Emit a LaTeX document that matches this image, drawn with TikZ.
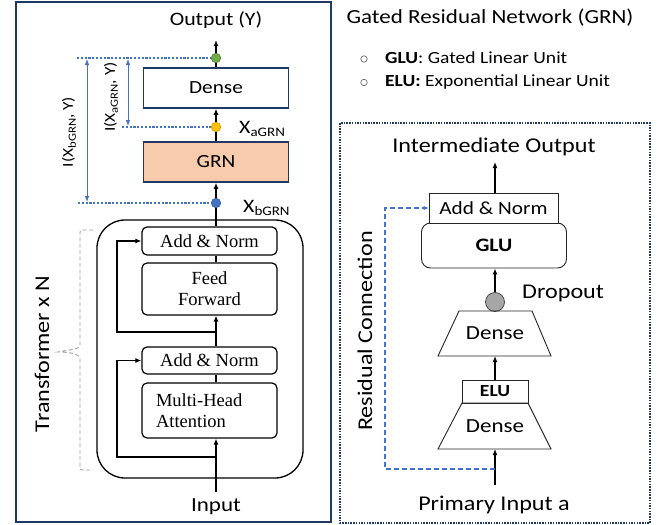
\documentclass[tikz,border=0pt]{standalone}
\usepackage{fontspec}
\setmainfont[FakeStretch=1.15]{Carlito}
\newfontfamily\serifface{Liberation Serif}
\newfontfamily\monoface{Liberation Mono}
\usetikzlibrary{arrows.meta}
\newcommand\fsz[2]{\fontsize{#1}{#2}\selectfont}
\definecolor{navy}{HTML}{1F3864}
\definecolor{bblue}{HTML}{4472C4}
\definecolor{peach}{HTML}{F8CBAD}
\definecolor{gdot}{HTML}{70AD47}
\definecolor{ydot}{HTML}{FFC000}
\definecolor{dgray}{HTML}{A6A6A6}
\definecolor{bracegray}{HTML}{A0A0A0}
\tikzset{
  arr/.style={line width=1.3pt, -{Latex[length=6pt,width=5pt]}},
  ln/.style={line width=1.3pt},
  navybox/.style={draw=navy, line width=1.5pt, minimum width=145pt, minimum height=40pt, inner sep=0pt, font=\fsz{18.5}{22}},
  tbox/.style={draw, rounded corners=5pt, line width=1.2pt, minimum width=135pt, inner sep=0pt, font=\serifface\fsz{18.5}{21}, align=center},
  bdot/.style={bblue, line width=2.2pt, dash pattern=on 2.2pt off 1.6pt},
  barr/.style={bblue, line width=0.8pt, {Latex[length=6pt,width=4.5pt]}-{Latex[length=6pt,width=4.5pt]}},
  dotn/.style={circle, minimum size=9.5pt, inner sep=0pt, line width=0.6pt},
  trapline/.style={draw=black!85, line width=0.9pt},
  resid/.style={bblue, line width=1.3pt, dash pattern=on 5pt off 3pt, -{Latex[length=5pt,width=4.5pt]}},
  lbl/.style={inner sep=0pt},
  bullet/.style={circle, draw=black!65, line width=0.6pt, minimum size=6.5pt, inner sep=0pt}
}
\begin{document}
\begin{tikzpicture}[x=1pt,y=-1pt]
\useasboundingbox (0,0) rectangle (662,525);
\fill[white] (0,0) rectangle (662,525);

% ---------- left panel ----------
\draw[navy, line width=2pt] (16,2) rectangle (331,522);

\node[lbl, font=\fsz{19}{22}] (out) at (216,20) {Output (Y)};
\node[navybox] (dense) at (216,88) {Dense};
\node[navybox, fill=peach] (grn) at (216,162) {GRN};

% transformer block
\node[draw, line width=1.3pt, rounded corners=28pt, minimum width=206pt, minimum height=258pt] (tf) at (200,349) {};
\node[tbox, minimum height=28pt] (an2) at (209.5,241) {Add \& Norm};
\node[tbox, minimum height=52pt] (ff) at (209.5,289) {Feed\\Forward};
\node[tbox, minimum height=27pt] (an1) at (209.5,360.5) {Add \& Norm};
\node[tbox, minimum height=55pt, text width=107pt, align=left] (mha) at (209.5,410.5) {Multi-Head\\Attention};

\coordinate (inb) at (216,492);
\coordinate (outtip) at (216,40);
\draw[arr] (inb) -- (mha.south -| inb);
\draw[ln] (mha.north -| inb) -- (an1.south -| inb);
\draw[arr] (an1.north -| inb) -- (ff.south -| inb);
\draw[ln] (ff.north -| inb) -- (an2.south -| inb);
\draw[arr] (an2.north -| inb) -- (grn.south);
\draw[arr] (grn.north) -- (dense.south);
\draw[arr] (dense.north) -- (outtip);

\coordinate (r1a) at (216,457); \coordinate (r1b) at (117,457);
\draw[arr] (r1a) -- (r1b) |- (an1.west);
\coordinate (r2a) at (216,332); \coordinate (r2b) at (117,332);
\draw[arr] (r2a) -- (r2b) |- (an2.west);

\node[lbl, font=\fsz{20}{24}] (inp) at (216,507) {Input};

% brace
\draw[bracegray, line width=0.9pt, dash pattern=on 4pt off 2.5pt]
  (93,230) -- (83,230) .. controls (80,230) .. (80,233) -- (80,345)
  .. controls (80,350) and (66,350) .. (58,352)
  .. controls (66,352) and (80,353) .. (80,359) -- (80,467)
  .. controls (80,470) .. (83,470) -- (93,470);
\node[lbl, rotate=90, font=\fsz{21}{24}] (tfn) at (42,354) {Transformer x N};

% dotted guides and dots
\coordinate (gl) at (77,58);
\coordinate (yl) at (122,127);
\coordinate (bl) at (78,203);
\node[dotn] (g) at (216,58) {};
\node[dotn] (yd) at (216,127) {};
\node[dotn] (bd) at (216,203) {};
\draw[bdot] (gl) -- (g.west);
\draw[bdot] (yl) -- (yd.west);
\draw[bdot] (bl) -- (bd.west);
\node[dotn, fill=gdot, draw=gdot!70!black] (gf) at (g) {};
\node[dotn, fill=ydot, draw=ydot!80!black] (yf) at (yd) {};
\node[dotn, fill=bblue, draw=bblue!80!black] (bf) at (bd) {};

\coordinate (v1t) at (87,59); \coordinate (v1b) at (87,202);
\coordinate (v2t) at (128,59); \coordinate (v2b) at (128,126);
\draw[barr] (v1t) -- (v1b);
\draw[barr] (v2t) -- (v2b);
\node[lbl, rotate=90, font=\fsz{15}{18}] (ib) at (69,132) {I(X\raisebox{-3pt}{\fsz{11}{13}bGRN}, Y)};
\node[lbl, rotate=90, font=\fsz{15}{18}] (ia) at (111,97) {I(X\raisebox{-3pt}{\fsz{11}{13}aGRN}, Y)};

\node[lbl, anchor=base west, font=\fsz{19}{22}] (xa) at (239,133) {X\raisebox{-3pt}{\fsz{13}{15}aGRN}};
\node[lbl, anchor=base west, font=\fsz{19}{22}] (xb) at (243,212) {X\raisebox{-3pt}{\fsz{13}{15}bGRN}};

% ---------- right panel ----------
\node[lbl, font=\fsz{20}{24}] (title) at (490,18) {Gated Residual Network (GRN)};
\node[bullet] (bu1) at (364,59) {};
\node[lbl, anchor=west, font=\fsz{17}{20}] (t1) at (385,58) {\textbf{GLU}: Gated Linear Unit};
\node[bullet] (bu2) at (364,82.5) {};
\node[lbl, anchor=west, font=\fsz{17}{20}] (t2) at (385,82) {\textbf{ELU:} Exponential Linear Unit};

\draw[navy, line width=1.6pt, dash pattern=on 1.5pt off 1.2pt] (340,123) rectangle (650,523);

\node[lbl, font=\fsz{21}{24}] (io) at (494,147) {Intermediate Output};
\node[draw=black!85, line width=0.9pt, rounded corners=9pt, minimum width=145pt, minimum height=45pt, inner sep=0pt, font=\bfseries\fsz{19}{22}] (glu) at (494,245.5) {GLU};
\node[draw=black!85, line width=0.9pt, fill=white, minimum width=129pt, minimum height=30pt, inner sep=0pt, font=\fsz{18.5}{22}] (anr) at (493.5,208) {Add \& Norm};
\coordinate (iotip) at (495,162);
\draw[arr] (anr.north -| iotip) -- (iotip);

\node[circle, draw=black!70, fill=dgray, minimum size=19pt, inner sep=0pt, line width=0.8pt] (drop) at (495,302) {};
\draw[arr] (drop.north) -- (glu.south -| drop);
\node[lbl, anchor=west, font=\fsz{21}{24}] (droplbl) at (522,293) {Dropout};

% upper Dense (trapezoid, wider at bottom)
\coordinate (d1tl) at (459,311); \coordinate (d1tr) at (532,311);
\coordinate (d1br) at (551,356); \coordinate (d1bl) at (438,356);
\coordinate (d1bot) at (495,356);
\draw[trapline] (d1tl) -- (d1tr) -- (d1br) -- (d1bl) -- cycle;
\node[lbl, font=\fsz{20}{24}] (d1) at (495,333.5) {Dense};

\node[draw=black!85, line width=0.9pt, minimum width=66pt, minimum height=23pt, inner sep=0pt, font=\bfseries\fsz{17}{20}] (elu) at (495,391.5) {ELU};

% lower Dense
\coordinate (d2tl) at (462,403); \coordinate (d2tr) at (528,403);
\coordinate (d2br) at (551,449); \coordinate (d2bl) at (438,449);
\coordinate (d2bot) at (495,449);
\draw[trapline] (d2tl) -- (d2tr) -- (d2br) -- (d2bl) -- cycle;
\node[lbl, font=\fsz{20}{24}] (d2) at (495,426) {Dense};

\draw[arr] (elu.north) -- (d1bot);

\coordinate (pin) at (495,485);
\draw[arr] (pin) -- (d2bot);
\coordinate (rs1) at (495,469); \coordinate (rs2) at (385,469);
\draw[resid] (rs1) -- (rs2) |- (anr.west);

\node[lbl, rotate=90, font=\fsz{21}{24}] (rc) at (365,331) {Residual Connection};
\node[lbl, font=\fsz{21}{24}] (pia) at (494,505) {Primary Input a};
\end{tikzpicture}
\end{document}
